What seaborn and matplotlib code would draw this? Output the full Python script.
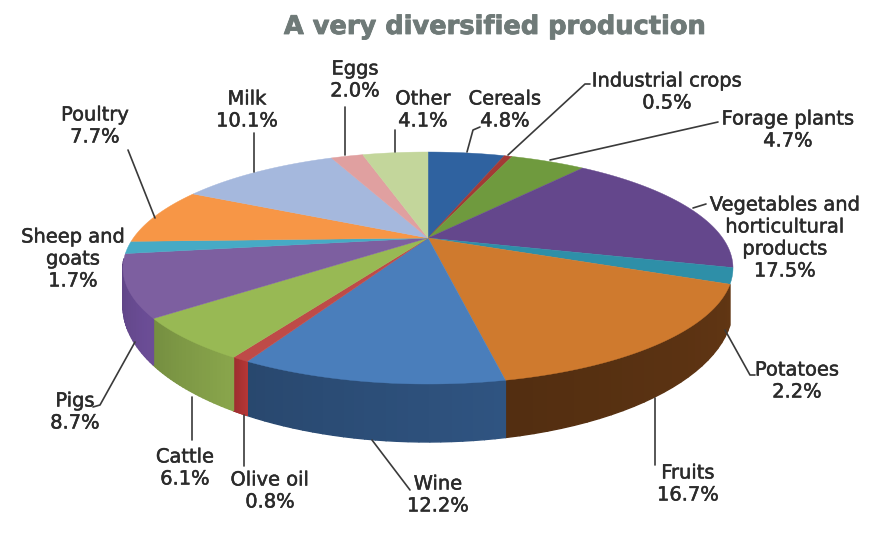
import numpy as np
import matplotlib
matplotlib.use("Agg")
import matplotlib.pyplot as plt
import matplotlib.patheffects as pe
from matplotlib.path import Path
from matplotlib.transforms import Transform, Affine2D
import seaborn as sns

categories = ["Cereals", "Industrial crops", "Forage plants",
              "Vegetables and\nhorticultural\nproducts", "Potatoes", "Fruits", "Wine",
              "Olive oil", "Cattle", "Pigs", "Sheep and\ngoats", "Poultry", "Milk", "Eggs", "Other"]
shares = [4.8, 0.5, 4.7, 17.5, 2.2, 16.7, 12.2, 0.8, 6.1, 8.7, 1.7, 7.7, 10.1, 2.0, 4.1]
top_colors = ["#2f62a0", "#a33a36", "#6f9a3e", "#64478c", "#2e8fa8", "#cf7a2e", "#4a7ebb",
              "#be4b48", "#98b954", "#7d5fa0", "#46aac5", "#f79646", "#a5b8dd", "#e0a0a0", "#c3d69b"]
side_colors = ["#234a78", "#7a2b28", "#537430", "#4a3569", "#226b7e", "#5a3212", "#2c4e78",
               "#a83232", "#7f9a46", "#64488c", "#338099", "#b96f33", "#7c8aa6", "#a87878", "#929f74"]

label_xy = [(505, 110), (667, 92), (788, 130), (785, 238), (797, 381), (688, 484), (438, 495),
            (270, 491), (185, 468), (75, 412), (73, 259), (95, 126), (247, 110), (355, 80), (423, 110)]
leaders = [[(467, 152), (473, 130), (480, 127)], [(508, 155), (585, 84), (590, 84)],
           [(550, 160), (718, 122)], [(693, 208), (706, 204)], [(725, 330), (750, 375), (755, 375)],
           [(655, 398), (655, 465)], [(372, 440), (410, 490)], [(244, 415), (244, 466)],
           [(192, 397), (192, 440)], [(135, 342), (100, 405), (93, 407)], [],
           [(155, 218), (128, 150)], [(254, 172), (254, 133)], [(345, 155), (345, 107)],
           [(395, 152), (395, 130)]]

APEX_X, APEX_Y = 428, 238
ELL_X, ELL_Y, ELL_A, ELL_B = 428, 268, 305, 116
WARP = np.radians(9.5)
DEPTH_SIDE, DEPTH_FRONT = 38, 20


def rim(theta, z=False):
    """theta: clockwise from top, radians, true pie angle."""
    phi = theta - WARP * np.sin(theta)
    x = ELL_X + ELL_A * np.sin(phi)
    y = ELL_Y - ELL_B * np.cos(phi)
    if z:
        y = y + DEPTH_SIDE - DEPTH_FRONT * np.cos(phi)
    return x, y


class PieWarp(Transform):
    input_dims = output_dims = 2
    is_separable = False
    has_inverse = False

    def transform_non_affine(self, values):
        values = np.asarray(values, dtype=float)
        r = np.hypot(values[:, 0], values[:, 1])
        theta = np.arctan2(values[:, 0], values[:, 1])
        rx, ry = rim(theta)
        return np.column_stack([APEX_X + r * (rx - APEX_X), APEX_Y + r * (ry - APEX_Y)])

    def transform_path_non_affine(self, path):
        poly = path.transformed(Affine2D().scale(3000)).to_polygons(closed_only=False)[0] / 3000.0
        return Path(self.transform_non_affine(poly), closed=True)


sns.set_theme(style="white")
plt.rcParams["font.family"] = ["DejaVu Sans"]

fig = plt.figure(figsize=(8.86, 5.38), dpi=100, facecolor="white")
ax = fig.add_axes([0, 0, 1, 1])
wedges, _ = ax.pie(shares, colors=top_colors, startangle=90, counterclock=False,
                   center=(0, 0), radius=1, frame=True)
ax.set_aspect("auto")
ax.set_xlim(0, 886)
ax.set_ylim(538, 0)
ax.axis("off")

warp = PieWarp()
for wedge in wedges:
    wedge.set_transform(warp + ax.transData)
    wedge.set_clip_on(False)
    wedge.set_zorder(3)
    wedge.set_edgecolor(wedge.get_facecolor())
    wedge.set_linewidth(0.3)


def hidden(t):
    return np.cos(t) > (-0.3 if np.sin(t) > 0 else -0.1)


for wedge, side in zip(wedges, side_colors):
    steps = np.radians(90 - np.linspace(wedge.theta1, wedge.theta2, 26))
    rgb = np.array(matplotlib.colors.to_rgb(side))
    for i in range(len(steps) - 1):
        t0, t1 = steps[i], steps[i + 1]
        if hidden(t0) and hidden(t1):
            continue
        a, b = rim(t0), rim(t1)
        c, d = rim(t1, True), rim(t0, True)
        f = 0.92 + 0.16 * i / 25
        ax.fill([a[0], b[0], c[0], d[0]], [a[1], b[1], c[1], d[1]],
                color=np.clip(rgb * f, 0, 1), lw=1.0, zorder=2)

stroke = [pe.withStroke(linewidth=0.35, foreground="#2b2b2b")]
for name, share, (lx, ly), pts in zip(categories, shares, label_xy, leaders):
    ax.text(lx, ly, f"{name}\n{share:.1f}%", ha="center", va="center", fontsize=14,
            color="#2b2b2b", linespacing=1.2, zorder=5, path_effects=stroke)
    if pts:
        xs, ys = zip(*pts)
        ax.plot(xs, ys, color="#3a3a3a", lw=1.2, zorder=4)

ax.text(495, 27, "A very diversified production", ha="center", va="center", fontsize=18.5,
        fontweight="bold", color="#6f7a78",
        path_effects=[pe.withStroke(linewidth=0.6, foreground="#6f7a78")])

fig.savefig("out.png", dpi=100, facecolor="white")
